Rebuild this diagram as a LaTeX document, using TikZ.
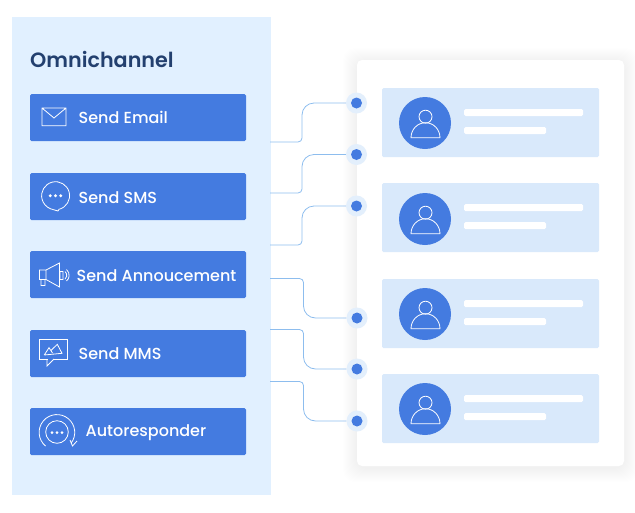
\documentclass[tikz,border=0pt]{standalone}
\usepackage{fontspec}
\setmainfont{Poppins Medium}
\newfontfamily\titlefont{Poppins SemiBold}
\definecolor{panelblue}{HTML}{E1F0FF}
\definecolor{btnblue}{HTML}{447BE0}
\definecolor{rowblue}{HTML}{D9E9FB}
\definecolor{wireblue}{HTML}{8DBDEE}
\definecolor{haloblue}{HTML}{E3EFFC}
\definecolor{titleblue}{HTML}{23406F}
\tikzset{
	btn/.style={fill=btnblue,rounded corners=1.5pt,minimum width=216pt,minimum height=47pt,inner sep=0pt},
	btnlabel/.style={anchor=base west,text=white,inner sep=0pt,font=\fontsize{16}{18}\selectfont},
	rowbox/.style={fill=rowblue,rounded corners=1.5pt,minimum width=217pt,minimum height=69pt,inner sep=0pt},
	avatar/.style={circle,fill=btnblue,minimum size=52pt,inner sep=0pt},
	halo/.style={circle,fill=haloblue,minimum size=21pt,inner sep=0pt},
	dot/.style={circle,fill=btnblue,minimum size=11pt,inner sep=0pt},
	wire/.style={draw=wireblue,line width=0.8pt},
	icon/.style={draw=white,line width=0.8pt},
	bar/.style={fill=white,rounded corners=1.5pt},
}
\begin{document}
\begin{tikzpicture}[x=1pt,y=-1pt]
	\useasboundingbox (0,0) rectangle (635,512);
	\fill[panelblue] (12,17) rectangle (271,495);
	% card with soft shadow
	\foreach \s in {1,2,...,14}{\fill[black,opacity=0.004,rounded corners=12pt] (357-\s,60-\s+2) rectangle (624+\s,466+\s+2);}
	\fill[white,rounded corners=5pt] (357,60) rectangle (624,466);
	\node[anchor=base west,inner sep=0pt,text=titleblue,font=\fontsize{20.7}{24}\titlefont] (title) at (30,67.3) {Omnichannel};
	\node[btn] (email) at (138,117.5) {};
	\node[btn] (sms) at (138,196.5) {};
	\node[btn] (ann) at (138,274.5) {};
	\node[btn] (mms) at (138,353.5) {};
	\node[btn] (auto) at (138,431.5) {};
	\node[btnlabel] (lemail) at (78.5,123.3) {Send Email};
	\node[btnlabel] (lsms) at (78.5,203.3) {Send SMS};
	\node[btnlabel] (lann) at (76.5,281) {Send Annoucement};
	\node[btnlabel] (lmms) at (78.5,359.3) {Send MMS};
	\node[btnlabel] (lauto) at (85.5,436.7) {Autoresponder};
	% icons
	\draw[icon] (42,108) rectangle (66,125.7) (42,108)--(54,118)--(66,108);
	\draw[icon] (59,209.3) arc[start angle=76,end angle=-250,radius=14] -- (58,211) -- cycle;
	\foreach \x in {50.3,55.5,60.7}{\fill[white] (\x,195.7) circle (1.6);}
	\draw[icon] (39.5,270) rectangle (46,279.5) (46,270)--(59.5,263)--(59.5,287)--(46,279.5) (41,279.5) rectangle (45,285.5) (60,271.5) rectangle (63,279.5);
	\draw[icon] (65,271.5) arc[start angle=-50,end angle=50,radius=5] (66.5,269.5) arc[start angle=-50,end angle=50,radius=7.5];
	\draw[icon] (39,339) rectangle (67,359);
	\fill[btnblue] (47.5,358) rectangle (53.5,360);
	\draw[icon] (47,359)--(47,366)--(54,359) (44.3,355)--(49,347.7)--(52.5,353) (51,350.5)--(57.3,344.3)--(62,353.3)--(44.3,355);
	\draw[icon] (57,432) circle (11.3);
	\foreach \x in {52,57,62}{\fill[white] (\x,432.5) circle (1.5);}
	\draw[icon] (45.5,446) arc[start angle=130,end angle=398,radius=17.8];
	\draw[icon] (70,440)--(72.5,446)--(77,441);
	% rows on the card
	\foreach \i/\y in {1/122.5,2/217.5,3/313.5,4/408.5}{
		\node[rowbox] (row\i) at (490.5,\y) {};
		\fill[bar] (464,\y-13.5) rectangle (583,\y-6.5);
		\fill[bar] (464,\y+4.5) rectangle (546,\y+11.5);
	}
	\foreach \i/\y in {1/123,2/219,3/314,4/409}{
		\node[avatar] (face\i) at (425,\y) {};
		\begin{scope}[shift={(face\i)}]
			\draw[icon] (0.5,-6.3) circle (6.5);
			\draw[icon] (-14,14.7) arc[start angle=180,end angle=360,x radius=14.5,y radius=15] -- cycle;
		\end{scope}
	}
	% connectors
	\coordinate (e1) at (270,142);
	\coordinate (e2) at (270,193);
	\coordinate (e3) at (270,245);
	\coordinate (e4) at (270,278.5);
	\coordinate (e5) at (270,329.5);
	\coordinate (e6) at (270,381.5);
	\node[halo] (d1) at (356.5,103) {};
	\node[halo] (d2) at (356.5,154.5) {};
	\node[halo] (d3) at (356.5,206) {};
	\node[halo] (d4) at (357,318) {};
	\node[halo] (d5) at (357,369) {};
	\node[halo] (d6) at (357,421) {};
	\foreach \a/\b/\bend in {e1/d1/302,e2/d2/302,e3/d3/302,e4/d4/303.5,e5/d5/303.5,e6/d6/303.5}{
		\draw[wire] (\a) [rounded corners=4pt] -- (\a -| \bend,0) [rounded corners=12pt] -- (\b -| \bend,0) -- (\b.west);
	}
	\foreach \i in {1,...,6}{\node[dot] (p\i) at (d\i) {};}
\end{tikzpicture}
\end{document}
